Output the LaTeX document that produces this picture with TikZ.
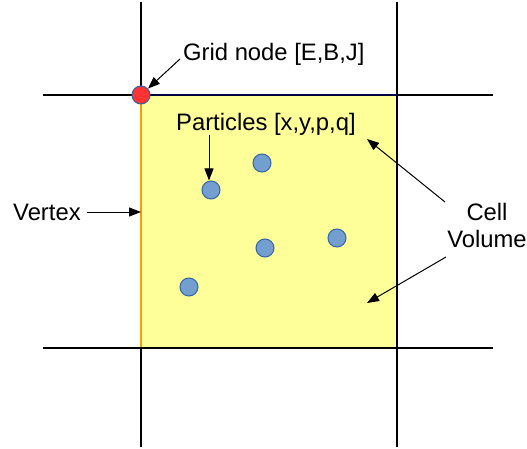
\documentclass[tikz,border=0pt]{standalone}
\usepackage{fontspec}
\setmainfont{Liberation Sans}
\usetikzlibrary{arrows.meta, positioning}
\definecolor{cellyellow}{RGB}{255,255,153}
\definecolor{partfill}{RGB}{114,159,207}
\definecolor{partedge}{RGB}{52,101,164}
\definecolor{nodered}{RGB}{255,51,51}
\definecolor{vertexorange}{RGB}{255,153,0}
\definecolor{topnavy}{RGB}{0,0,64}

\begin{document}
\begin{tikzpicture}[x=1pt, y=-1pt,
    gridline/.style={draw=black, line width=2pt},
    particle/.style={circle, draw=partedge, fill=partfill, line width=1pt,
                     minimum size=18pt, inner sep=0pt},
    gridpt/.style={particle, fill=nodered, minimum size=18pt},
    lbl/.style={font=\fontsize{23.8}{27}\selectfont, inner sep=0pt},
    arr/.style={-{Triangle[length=12pt, width=9pt]}, line width=1pt}
  ]
  \useasboundingbox (0,0) rectangle (527,449);
  % Cell volume
  \fill[cellyellow] (141,95) rectangle (397,348);
  % Grid lines
  \draw[gridline] (141,2) -- (141,447);
  \draw[gridline] (397,2) -- (397,447);
  \draw[gridline] (43,95) -- (493,95);
  \draw[gridline] (43,348) -- (493,348);
  \draw[line width=1.5pt, topnavy] (141,95) -- (397,95);
  \draw[line width=1.5pt, vertexorange] (141,96) -- (141,347);
  % Grid node
  \node[gridpt] (gn) at (141,95) {};
  % Particles
  \node[particle] (p1) at (262,163) {};
  \node[particle] (p2) at (211,190) {};
  \node[particle] (p3) at (265,248) {};
  \node[particle] (p4) at (337,238) {};
  \node[particle] (p5) at (189,287) {};
  % Labels
  \node[lbl, anchor=base west] (gnlbl) at (183,61) {Grid node [E,B,J]};
  \node[lbl, anchor=base west] (plbl) at (176,131) {Particles [x,y,p,q]};
  \node[lbl, anchor=base west] (vlbl) at (13,220) {Vertex};
  \node[lbl, anchor=base, align=center] (cvlbl) at (487,247) {Cell\\Volume};
  % Arrow ends
  \coordinate (gnfrom) at (180,59);
  \coordinate (pfrom) at (209,135);
  \coordinate (vfrom) at (87,212);
  \coordinate (vto) at (141,212);
  \coordinate (cvfromA) at (445,202);
  \coordinate (cvtoA) at (367,139);
  \coordinate (cvfromB) at (446,257);
  \coordinate (cvtoB) at (367,303);
  % Arrows
  \draw[arr] (gnfrom) -- (gn);
  \draw[arr] (pfrom) -- (pfrom |- p2.north);
  \draw[arr] (vfrom) -- (vto);
  \draw[arr] (cvfromA) -- (cvtoA);
  \draw[arr] (cvfromB) -- (cvtoB);
\end{tikzpicture}
\end{document}
